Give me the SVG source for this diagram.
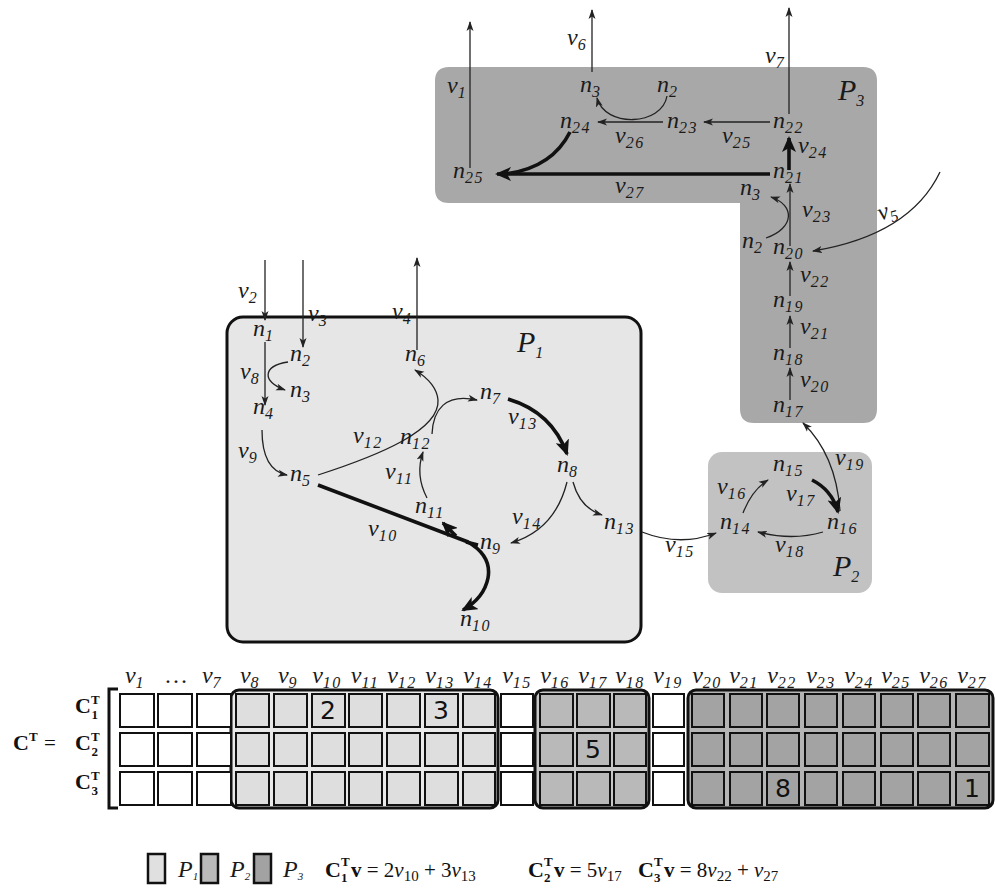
<svg xmlns="http://www.w3.org/2000/svg" width="995" height="890" viewBox="0 0 995 890">
<style>
.t{font-family:"Liberation Serif",serif;font-style:italic;font-size:24px;fill:#1a1a1a}
.s{font-size:16px;letter-spacing:1.5px}
.P{font-size:30px}
.c{fill:none;stroke:#222;stroke-width:1.3}
.k{fill:none;stroke:#111;stroke-width:3.6}
.cell{stroke:#111;stroke-width:2}
.w{fill:#fff}
.grp{stroke:#111;stroke-width:3}
.num{font-family:"DejaVu Sans",sans-serif;font-size:25px;text-anchor:middle;fill:#111}
.bf{font-family:"Liberation Serif",serif;font-weight:bold;font-size:22px;fill:#111}
.bs{font-size:13px}
.m{font-family:"Liberation Serif",serif;font-size:21px;fill:#111}
.ms{font-size:15px}
.hd{text-anchor:middle}
</style>
<defs>
<marker id="a" markerWidth="10" markerHeight="8" refX="9" refY="4" orient="auto" markerUnits="userSpaceOnUse"><path d="M0,0.5 L10,4 L0,7.5 L2.5,4 z" fill="#222"/></marker>
<marker id="b" markerWidth="16" markerHeight="14" refX="14" refY="7" orient="auto" markerUnits="userSpaceOnUse"><path d="M0,0 L16,7 L0,14 L4,7 z" fill="#111"/></marker>
</defs>
<rect width="995" height="890" fill="#fff"/>

<!-- compartments -->
<g id="P3">
<path d="M449,67 L863,67 Q877,67 877,81 L877,409 Q877,423 863,423 L754,423 Q740,423 740,409 L740,203 L449,203 Q435,203 435,189 L435,81 Q435,67 449,67 Z" fill="#a8a8a8"/>
<text class="t P" x="838" y="100">P<tspan class="s" font-size="18" dy="6">3</tspan></text>
</g>
<g id="P2">
<rect x="708" y="452" width="164" height="141" rx="14" fill="#c2c2c2"/>
<text class="t P" x="833" y="576">P<tspan class="s" font-size="18" dy="6">2</tspan></text>
</g>
<g id="P1">
<rect x="227" y="317" width="414" height="325" rx="16" fill="#e6e6e6" stroke="#111" stroke-width="3"/>
<text class="t P" x="517" y="352">P<tspan class="s" font-size="18" dy="6">1</tspan></text>
</g>

<!-- connectors -->
<g id="connectors">
<path class="c" d="M470,168 L470,22" marker-end="url(#a)"/>
<path class="c" d="M592,72 L592,10" marker-end="url(#a)"/>
<path class="c" d="M789,114 L789,8" marker-end="url(#a)"/>
<path class="c" d="M770,122 L704,122" marker-end="url(#a)"/>
<path class="c" d="M663,122 L598,122" marker-end="url(#a)"/>
<path class="c" d="M667,96 C662,126 605,128 597,98" marker-end="url(#a)"/>
<path class="k" d="M789,170 L789,138" marker-end="url(#b)"/>
<path class="k" d="M770,174 L497,174" marker-end="url(#b)"/>
<path class="k" d="M570,132 Q552,168 505,174"/>
<path class="c" d="M790,246 L790,184" marker-end="url(#a)"/>
<path class="c" d="M766,238 C795,228 795,205 771,197" marker-end="url(#a)"/>
<path class="c" d="M940,172 Q910,235 813,251" marker-end="url(#a)"/>
<path class="c" d="M790,296 L790,262" marker-end="url(#a)"/>
<path class="c" d="M790,348 L790,316" marker-end="url(#a)"/>
<path class="c" d="M790,400 L790,368" marker-end="url(#a)"/>
<path class="c" d="M840,511 Q836,455 803,423" marker-end="url(#a)"/>
<path class="c" d="M642,532 Q680,547 716,533" marker-end="url(#a)"/>
<path class="c" d="M743,513 Q752,490 768,480" marker-end="url(#a)"/>
<path class="k" d="M812,480 Q832,490 838,512" marker-end="url(#b)"/>
<path class="c" d="M823,532 Q792,541 758,532" marker-end="url(#a)"/>
<path class="c" d="M265,260 L265,320" marker-end="url(#a)"/>
<path class="c" d="M303,260 L303,347" marker-end="url(#a)"/>
<path class="c" d="M417,350 L417,258" marker-end="url(#a)"/>
<path class="c" d="M288,362 C262,366 262,382 285,390" marker-end="url(#a)"/>
<path class="c" d="M265,342 L265,405" marker-end="url(#a)"/>
<path class="c" d="M262,430 Q262,470 287,475" marker-end="url(#a)"/>
<path class="c" d="M318,475 C380,455 440,430 438,400 C437,388 428,378 415,370" marker-end="url(#a)"/>
<path class="c" d="M432,434 C433,410 445,393 477,400" marker-end="url(#a)"/>
<path class="k" d="M508,399 Q552,412 567,454" marker-end="url(#b)"/>
<path class="c" d="M573,482 Q580,508 602,515" marker-end="url(#a)"/>
<path class="c" d="M567,482 Q555,530 511,543" marker-end="url(#a)"/>
<path class="c" d="M427,498 Q415,475 423,452" marker-end="url(#a)"/>
<path class="k" d="M318,485 L468,542 Q492,556 488,578 Q484,598 463,610" marker-end="url(#b)"/>
<path class="k" d="M456,536 L443,523" marker-end="url(#b)"/>
<path class="k" d="M466,542 L478,545"/>
</g>

<!-- nodes P3 -->
<g id="n25"><text class="t" x="453" y="178">n<tspan class="s" dy="5">25</tspan></text></g>
<g id="n24"><text class="t" x="560" y="128">n<tspan class="s" dy="5">24</tspan></text></g>
<g id="n23"><text class="t" x="667" y="128">n<tspan class="s" dy="5">23</tspan></text></g>
<g id="n22"><text class="t" x="773" y="128">n<tspan class="s" dy="5">22</tspan></text></g>
<g id="n3a"><text class="t" x="580" y="92">n<tspan class="s" dy="5">3</tspan></text></g>
<g id="n2a"><text class="t" x="657" y="92">n<tspan class="s" dy="5">2</tspan></text></g>
<g id="n21"><text class="t" x="773" y="178">n<tspan class="s" dy="5">21</tspan></text></g>
<g id="n3b"><text class="t" x="740" y="195">n<tspan class="s" dy="5">3</tspan></text></g>
<g id="n2b"><text class="t" x="742" y="248">n<tspan class="s" dy="5">2</tspan></text></g>
<g id="n20"><text class="t" x="773" y="254">n<tspan class="s" dy="5">20</tspan></text></g>
<g id="n19"><text class="t" x="773" y="307">n<tspan class="s" dy="5">19</tspan></text></g>
<g id="n18"><text class="t" x="773" y="360">n<tspan class="s" dy="5">18</tspan></text></g>
<g id="n17"><text class="t" x="773" y="412">n<tspan class="s" dy="5">17</tspan></text></g>
<!-- nodes P2 -->
<g id="n15"><text class="t" x="773" y="471">n<tspan class="s" dy="5">15</tspan></text></g>
<g id="n14"><text class="t" x="720" y="529">n<tspan class="s" dy="5">14</tspan></text></g>
<g id="n16"><text class="t" x="827" y="529">n<tspan class="s" dy="5">16</tspan></text></g>
<g id="n13"><text class="t" x="604" y="529">n<tspan class="s" dy="5">13</tspan></text></g>
<!-- nodes P1 -->
<g id="n1"><text class="t" x="253" y="336">n<tspan class="s" dy="5">1</tspan></text></g>
<g id="n2"><text class="t" x="290" y="361">n<tspan class="s" dy="5">2</tspan></text></g>
<g id="n3"><text class="t" x="290" y="397">n<tspan class="s" dy="5">3</tspan></text></g>
<g id="n4"><text class="t" x="253" y="414">n<tspan class="s" dy="5">4</tspan></text></g>
<g id="n5"><text class="t" x="290" y="481">n<tspan class="s" dy="5">5</tspan></text></g>
<g id="n6"><text class="t" x="405" y="361">n<tspan class="s" dy="5">6</tspan></text></g>
<g id="n7"><text class="t" x="480" y="399">n<tspan class="s" dy="5">7</tspan></text></g>
<g id="n8"><text class="t" x="557" y="472">n<tspan class="s" dy="5">8</tspan></text></g>
<g id="n9"><text class="t" x="480" y="549">n<tspan class="s" dy="5">9</tspan></text></g>
<g id="n10"><text class="t" x="460" y="626">n<tspan class="s" dy="5">10</tspan></text></g>
<g id="n11"><text class="t" x="415" y="513">n<tspan class="s" dy="5">11</tspan></text></g>
<g id="n12"><text class="t" x="400" y="444">n<tspan class="s" dy="5">12</tspan></text></g>

<!-- flux labels -->
<g id="flux-labels">
<text class="t" x="447" y="93">v<tspan class="s" dy="5">1</tspan></text>
<text class="t" x="238" y="298">v<tspan class="s" dy="5">2</tspan></text>
<text class="t" x="308" y="321">v<tspan class="s" dy="5">3</tspan></text>
<text class="t" x="392" y="319">v<tspan class="s" dy="5">4</tspan></text>
<text class="t" x="878" y="218" transform="rotate(-18 888 212)">v<tspan class="s" dy="5">5</tspan></text>
<text class="t" x="567" y="45">v<tspan class="s" dy="5">6</tspan></text>
<text class="t" x="765" y="63">v<tspan class="s" dy="5">7</tspan></text>
<text class="t" x="240" y="379">v<tspan class="s" dy="5">8</tspan></text>
<text class="t" x="238" y="458">v<tspan class="s" dy="5">9</tspan></text>
<text class="t" x="368" y="536">v<tspan class="s" dy="5">10</tspan></text>
<text class="t" x="385" y="479">v<tspan class="s" dy="5">11</tspan></text>
<text class="t" x="353" y="443">v<tspan class="s" dy="5">12</tspan></text>
<text class="t" x="508" y="424">v<tspan class="s" dy="5">13</tspan></text>
<text class="t" x="512" y="524">v<tspan class="s" dy="5">14</tspan></text>
<text class="t" x="665" y="552">v<tspan class="s" dy="5">15</tspan></text>
<text class="t" x="717" y="494">v<tspan class="s" dy="5">16</tspan></text>
<text class="t" x="786" y="501">v<tspan class="s" dy="5">17</tspan></text>
<text class="t" x="775" y="552">v<tspan class="s" dy="5">18</tspan></text>
<text class="t" x="835" y="465">v<tspan class="s" dy="5">19</tspan></text>
<text class="t" x="800" y="387">v<tspan class="s" dy="5">20</tspan></text>
<text class="t" x="800" y="334">v<tspan class="s" dy="5">21</tspan></text>
<text class="t" x="800" y="282">v<tspan class="s" dy="5">22</tspan></text>
<text class="t" x="802" y="217">v<tspan class="s" dy="5">23</tspan></text>
<text class="t" x="798" y="153">v<tspan class="s" dy="5">24</tspan></text>
<text class="t" x="722" y="143">v<tspan class="s" dy="5">25</tspan></text>
<text class="t" x="615" y="143">v<tspan class="s" dy="5">26</tspan></text>
<text class="t" x="615" y="193">v<tspan class="s" dy="5">27</tspan></text>
</g>

<!-- matrix -->
<g id="matrix">
<rect class="grp" fill="#e9e9e9" x="231" y="690" width="267" height="118" rx="8"/>
<rect class="grp" fill="#c8c8c8" x="535" y="690" width="114" height="118" rx="8"/>
<rect class="grp" fill="#b4b4b4" x="688" y="690" width="305" height="118" rx="8"/>
<g id="cells-white" class="cell w">
<rect x="120" y="694" width="34" height="33"/><rect x="158" y="694" width="34" height="33"/><rect x="197" y="694" width="34" height="33"/>
<rect x="120" y="733" width="34" height="33"/><rect x="158" y="733" width="34" height="33"/><rect x="197" y="733" width="34" height="33"/>
<rect x="120" y="772" width="34" height="33"/><rect x="158" y="772" width="34" height="33"/><rect x="197" y="772" width="34" height="33"/>
<rect x="501" y="694" width="32" height="33"/><rect x="501" y="733" width="32" height="33"/><rect x="501" y="772" width="32" height="33"/>
<rect x="653" y="694" width="31" height="33"/><rect x="653" y="733" width="31" height="33"/><rect x="653" y="772" width="31" height="33"/>
</g>
<g id="cells-p1" class="cell" fill="#dedede">
<rect x="236" y="694" width="33" height="33"/><rect x="274" y="694" width="33" height="33"/><rect x="312" y="694" width="33" height="33"/><rect x="349" y="694" width="33" height="33"/><rect x="387" y="694" width="33" height="33"/><rect x="425" y="694" width="33" height="33"/><rect x="463" y="694" width="32" height="33"/>
<rect x="236" y="733" width="33" height="33"/><rect x="274" y="733" width="33" height="33"/><rect x="312" y="733" width="33" height="33"/><rect x="349" y="733" width="33" height="33"/><rect x="387" y="733" width="33" height="33"/><rect x="425" y="733" width="33" height="33"/><rect x="463" y="733" width="32" height="33"/>
<rect x="236" y="772" width="33" height="33"/><rect x="274" y="772" width="33" height="33"/><rect x="312" y="772" width="33" height="33"/><rect x="349" y="772" width="33" height="33"/><rect x="387" y="772" width="33" height="33"/><rect x="425" y="772" width="33" height="33"/><rect x="463" y="772" width="32" height="33"/>
</g>
<g id="cells-p2" class="cell" fill="#b9b9b9">
<rect x="540" y="694" width="33" height="33"/><rect x="577" y="694" width="33" height="33"/><rect x="614" y="694" width="32" height="33"/>
<rect x="540" y="733" width="33" height="33"/><rect x="577" y="733" width="33" height="33"/><rect x="614" y="733" width="32" height="33"/>
<rect x="540" y="772" width="33" height="33"/><rect x="577" y="772" width="33" height="33"/><rect x="614" y="772" width="32" height="33"/>
</g>
<g id="cells-p3" class="cell" fill="#a3a3a3">
<rect x="692" y="694" width="32" height="33"/><rect x="730" y="694" width="32" height="33"/><rect x="767" y="694" width="32" height="33"/><rect x="805" y="694" width="32" height="33"/><rect x="843" y="694" width="32" height="33"/><rect x="881" y="694" width="32" height="33"/><rect x="918" y="694" width="32" height="33"/><rect x="956" y="694" width="33" height="33"/>
<rect x="692" y="733" width="32" height="33"/><rect x="730" y="733" width="32" height="33"/><rect x="767" y="733" width="32" height="33"/><rect x="805" y="733" width="32" height="33"/><rect x="843" y="733" width="32" height="33"/><rect x="881" y="733" width="32" height="33"/><rect x="918" y="733" width="32" height="33"/><rect x="956" y="733" width="33" height="33"/>
<rect x="692" y="772" width="32" height="33"/><rect x="730" y="772" width="32" height="33"/><rect x="767" y="772" width="32" height="33"/><rect x="805" y="772" width="32" height="33"/><rect x="843" y="772" width="32" height="33"/><rect x="881" y="772" width="32" height="33"/><rect x="918" y="772" width="32" height="33"/><rect x="956" y="772" width="33" height="33"/>
</g>
<text class="num" x="328" y="719">2</text>
<text class="num" x="441" y="719">3</text>
<text class="num" x="593" y="758">5</text>
<text class="num" x="783" y="797">8</text>
<text class="num" x="972" y="797">1</text>
<path d="M118,689 L109,689 L109,808 L118,808" fill="none" stroke="#111" stroke-width="3"/>
<text class="bf" x="75" y="713">C<tspan class="bs" dy="-9">T</tspan><tspan class="bs" dx="-8" dy="15">1</tspan></text>
<text class="bf" x="13" y="750">C<tspan class="bs" dy="-9">T</tspan></text>
<text class="m" x="44" y="750">=</text>
<text class="bf" x="75" y="750">C<tspan class="bs" dy="-9">T</tspan><tspan class="bs" dx="-8" dy="15">2</tspan></text>
<text class="bf" x="75" y="789">C<tspan class="bs" dy="-9">T</tspan><tspan class="bs" dx="-8" dy="15">3</tspan></text>
<g class="t hd">
<text x="135" y="683">v<tspan class="s" dy="5">1</tspan></text>
<text x="176" y="683" font-style="normal">…</text>
<text x="212" y="683">v<tspan class="s" dy="5">7</tspan></text>
<text x="250" y="683">v<tspan class="s" dy="5">8</tspan></text>
<text x="288" y="683">v<tspan class="s" dy="5">9</tspan></text>
<text x="327" y="683">v<tspan class="s" dy="5">10</tspan></text>
<text x="365" y="683">v<tspan class="s" dy="5">11</tspan></text>
<text x="402" y="683">v<tspan class="s" dy="5">12</tspan></text>
<text x="440" y="683">v<tspan class="s" dy="5">13</tspan></text>
<text x="478" y="683">v<tspan class="s" dy="5">14</tspan></text>
<text x="517" y="683">v<tspan class="s" dy="5">15</tspan></text>
<text x="555" y="683">v<tspan class="s" dy="5">16</tspan></text>
<text x="593" y="683">v<tspan class="s" dy="5">17</tspan></text>
<text x="630" y="683">v<tspan class="s" dy="5">18</tspan></text>
<text x="668" y="683">v<tspan class="s" dy="5">19</tspan></text>
<text x="707" y="683">v<tspan class="s" dy="5">20</tspan></text>
<text x="744" y="683">v<tspan class="s" dy="5">21</tspan></text>
<text x="782" y="683">v<tspan class="s" dy="5">22</tspan></text>
<text x="821" y="683">v<tspan class="s" dy="5">23</tspan></text>
<text x="859" y="683">v<tspan class="s" dy="5">24</tspan></text>
<text x="896" y="683">v<tspan class="s" dy="5">25</tspan></text>
<text x="934" y="683">v<tspan class="s" dy="5">26</tspan></text>
<text x="972" y="683">v<tspan class="s" dy="5">27</tspan></text>
</g>
</g>

<!-- legend -->
<g id="legend">
<rect x="148" y="854" width="17" height="29" fill="#e0e0e0" stroke="#111" stroke-width="2.5"/>
<text class="t" x="178" y="877" font-size="18">P<tspan font-size="11" dy="3">1</tspan></text>
<rect x="201" y="854" width="17" height="29" fill="#bababa" stroke="#111" stroke-width="2.5"/>
<text class="t" x="230" y="877" font-size="18">P<tspan font-size="11" dy="3">2</tspan></text>
<rect x="254" y="854" width="17" height="29" fill="#a2a2a2" stroke="#111" stroke-width="2.5"/>
<text class="t" x="283" y="877" font-size="18">P<tspan font-size="11" dy="3">3</tspan></text>

<text class="bf" x="325" y="877">C</text>
<text class="bf bs" x="341" y="866">T</text>
<text class="bf bs" x="341" y="882">1</text>
<text class="m" x="351" y="877"><tspan font-weight="bold">v</tspan> = 2<tspan font-style="italic">v</tspan><tspan class="ms" dy="4">10</tspan><tspan dy="-4"> + 3</tspan><tspan font-style="italic">v</tspan><tspan class="ms" dy="4">13</tspan></text>

<text class="bf" x="528" y="877">C</text>
<text class="bf bs" x="544" y="866">T</text>
<text class="bf bs" x="544" y="882">2</text>
<text class="m" x="554" y="877"><tspan font-weight="bold">v</tspan> = 5<tspan font-style="italic">v</tspan><tspan class="ms" dy="4">17</tspan></text>

<text class="bf" x="638" y="877">C</text>
<text class="bf bs" x="654" y="866">T</text>
<text class="bf bs" x="654" y="882">3</text>
<text class="m" x="664" y="877"><tspan font-weight="bold">v</tspan> = 8<tspan font-style="italic">v</tspan><tspan class="ms" dy="4">22</tspan><tspan dy="-4"> + </tspan><tspan font-style="italic">v</tspan><tspan class="ms" dy="4">27</tspan></text>
</g>
</svg>
